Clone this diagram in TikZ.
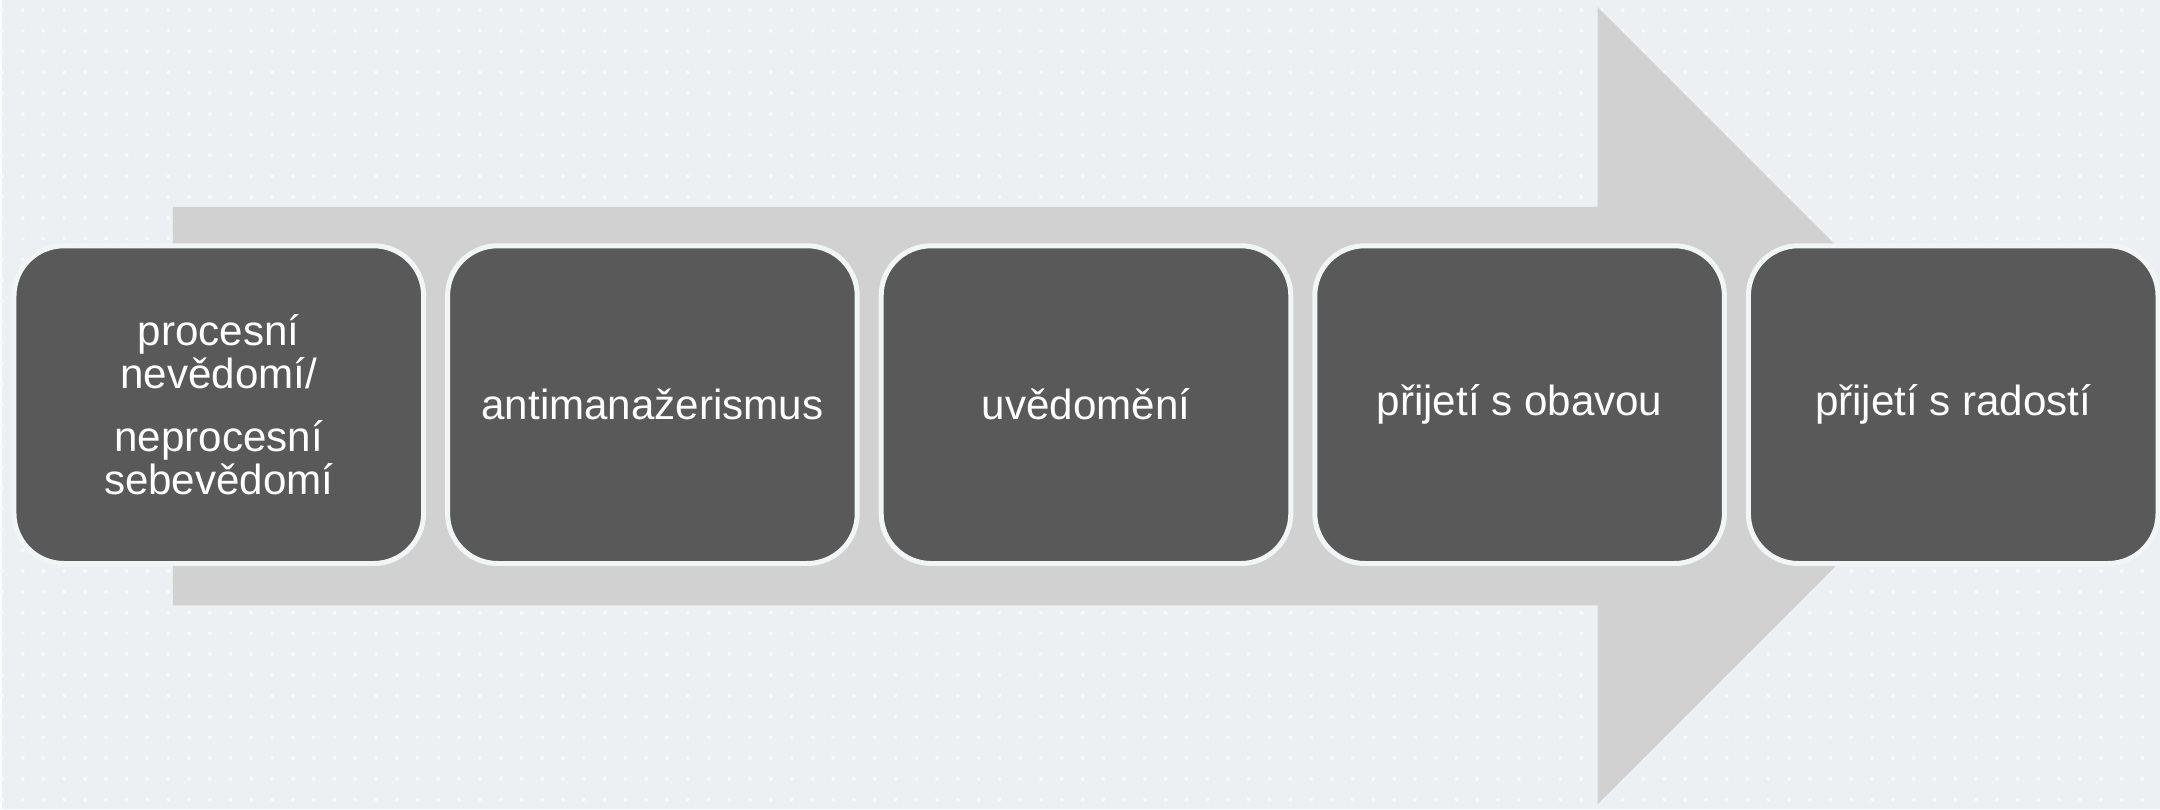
\documentclass[tikz,border=0pt]{standalone}
\usepackage{fontspec}
\setmainfont{Liberation Sans}
\usetikzlibrary{positioning}

\definecolor{bgcol}{RGB}{236,240,242}
\definecolor{dotcol}{RGB}{246,248,249}
\definecolor{arrowcol}{RGB}{209,209,209}
\definecolor{boxcol}{RGB}{89,89,89}
\definecolor{rimcol}{RGB}{242,245,246}

\tikzset{
  stage/.style={draw=rimcol, line width=0.05cm, fill=boxcol, rounded corners=0.5cm,
    minimum width=4.1cm, minimum height=3.18cm, inner sep=0pt,
    text=white, align=center, font=\fontsize{12}{12.2}\selectfont},
}

\begin{document}
\begin{tikzpicture}
\fill[bgcol] (0,0) rectangle (21.6,-8.1);
\foreach \i in {0,...,103}
  \foreach \j in {0,...,38}
    \fill[dotcol] (0.208*\i,-0.1-0.208*\j) circle (0.02);
\useasboundingbox (0,0) rectangle (21.6,-8.1);
\coordinate (A) at (1.71, -2.07);
\coordinate (B) at (15.97, -2.07);
\coordinate (C) at (15.97, -0.07);
\coordinate (D) at (19.96, -4.06);
\coordinate (E) at (15.97, -8.05);
\coordinate (F) at (15.97, -6.06);
\coordinate (G) at (1.71, -6.06);
\fill[arrowcol] (A) -- (B) -- (C) -- (D) -- (E) -- (F) -- (G) -- cycle;
\node[stage] (P1) at (2.17, -4.05) {procesní\\nevědomí/\\[6pt]neprocesní\\sebevědomí};
\node[stage, right=0.19cm of P1] (P2) {antimanažerismus};
\node[stage, right=0.19cm of P2] (P3) {uvědomění};
\node[stage, right=0.19cm of P3] (P4) {přijetí s obavou};
\node[stage, right=0.19cm of P4] (P5) {přijetí s radostí};
\end{tikzpicture}
\end{document}
